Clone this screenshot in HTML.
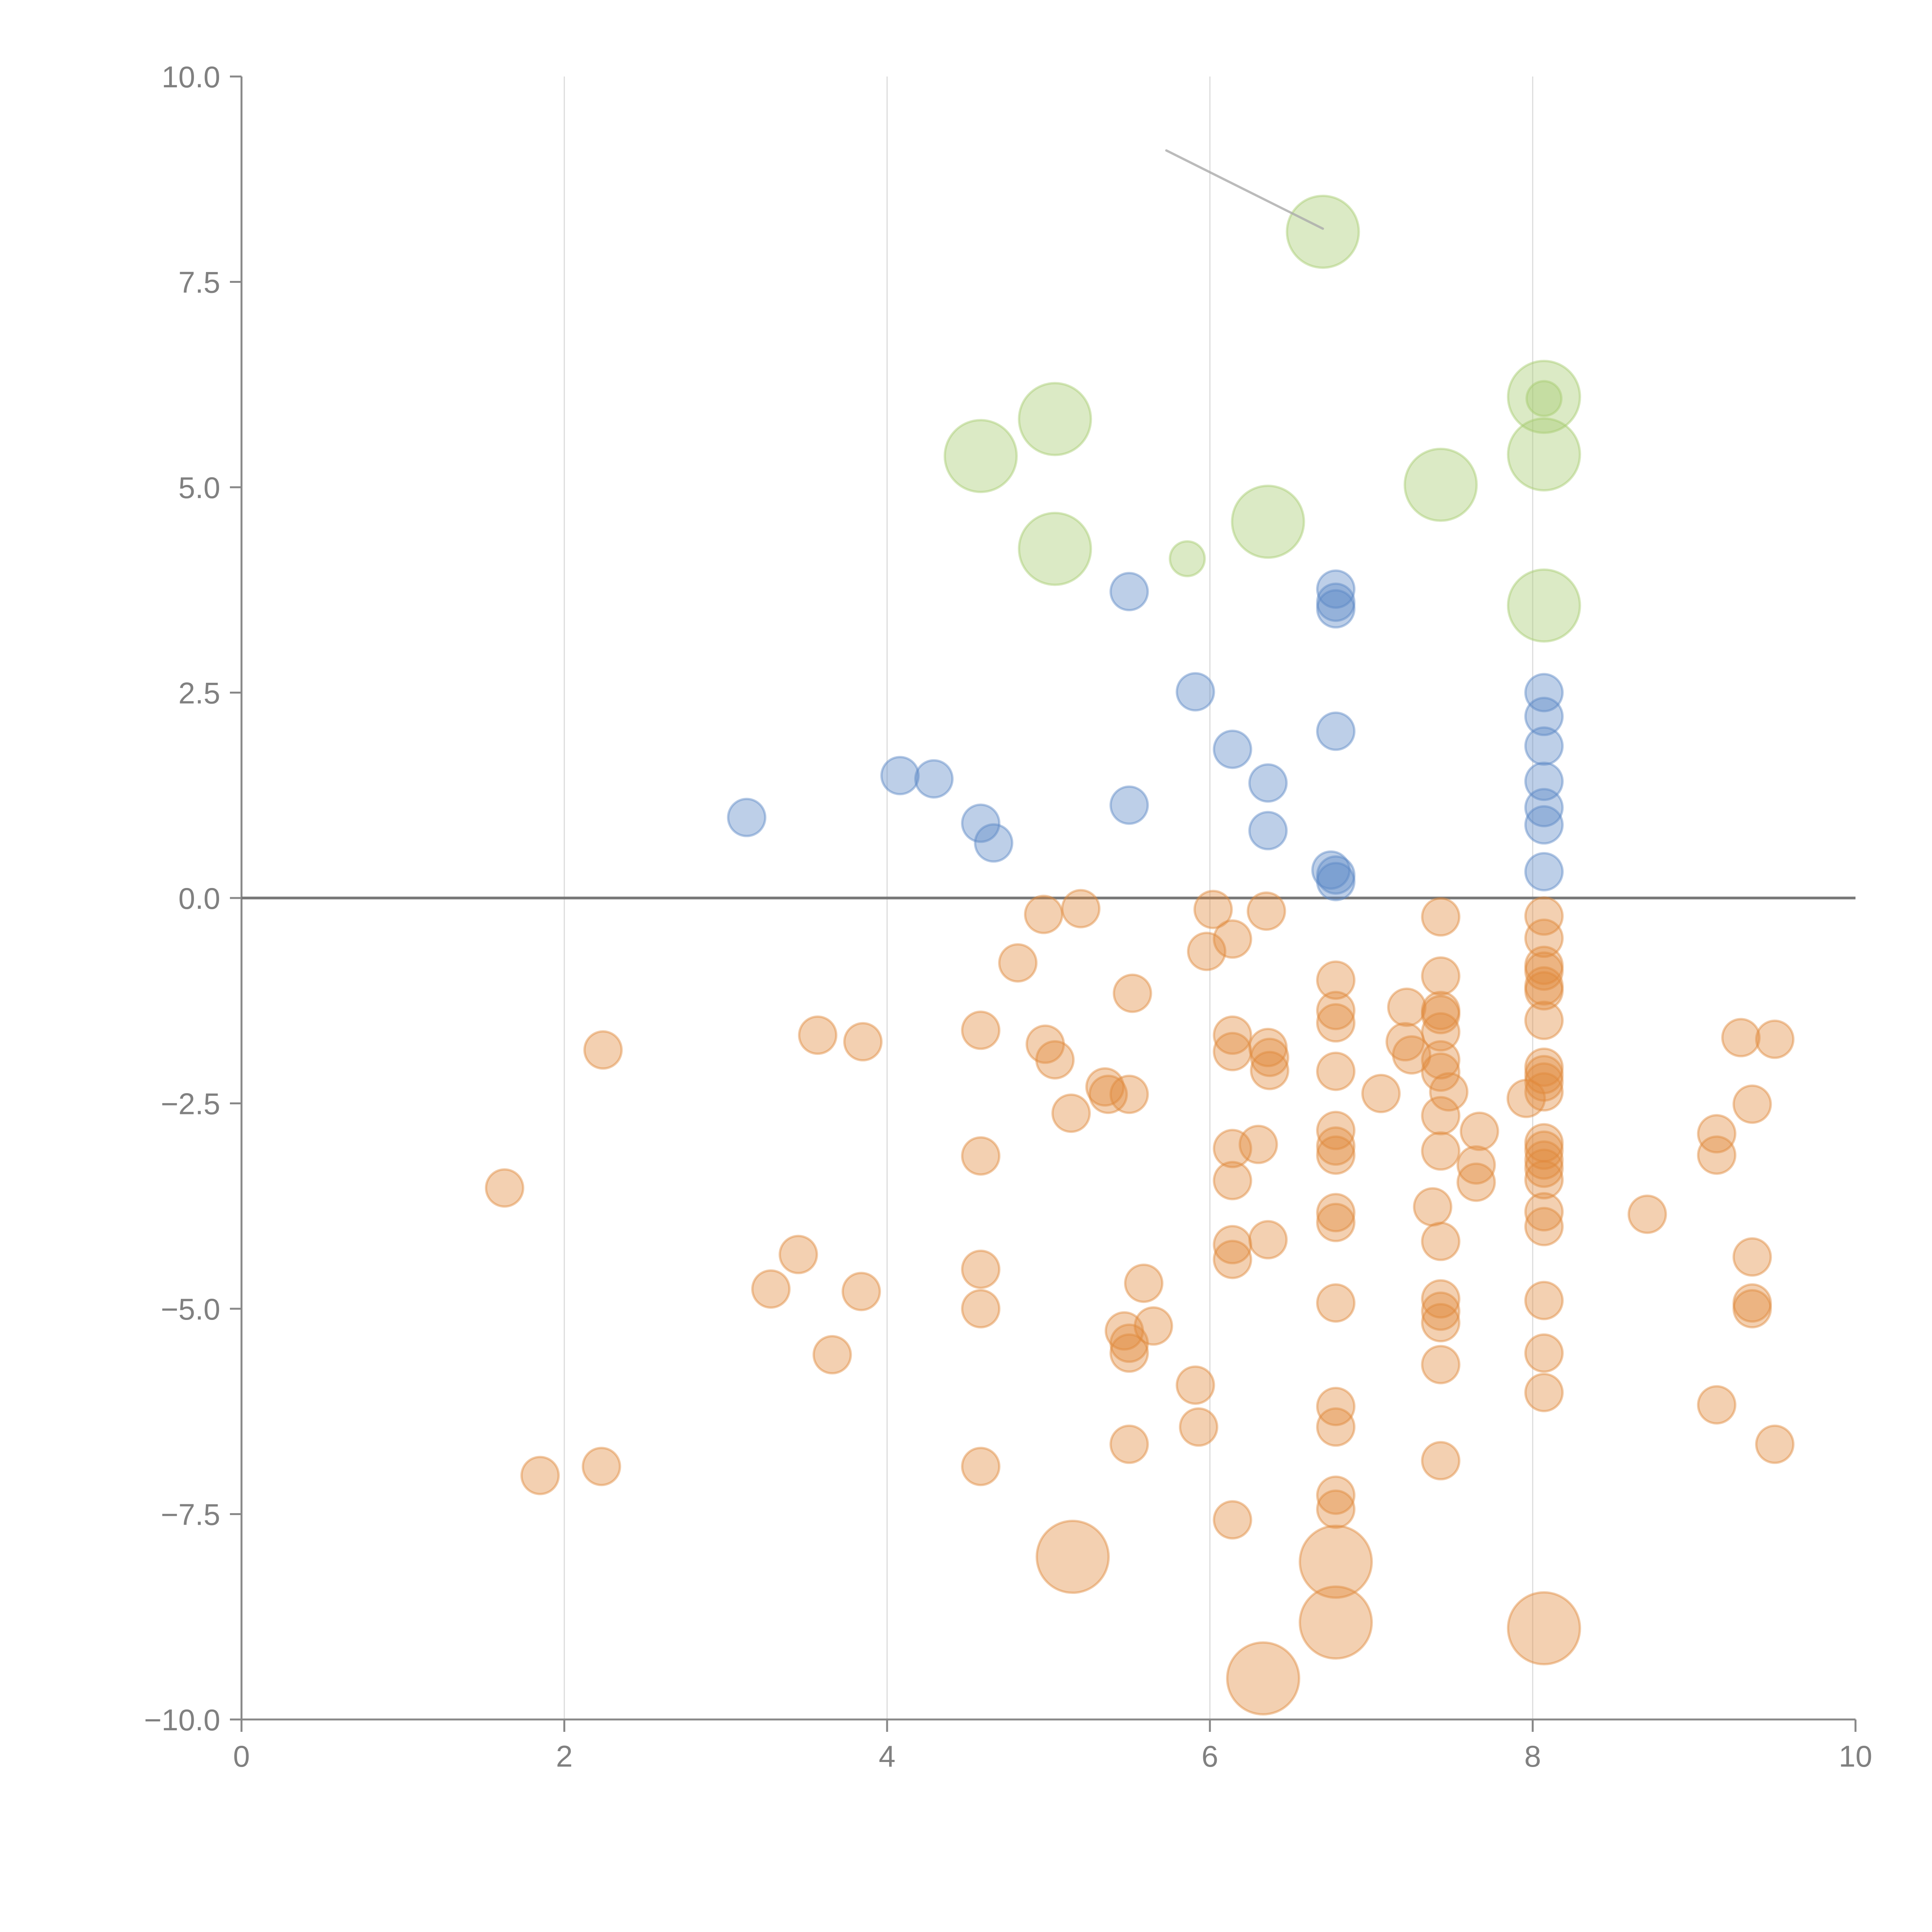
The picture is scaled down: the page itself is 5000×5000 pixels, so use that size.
<!DOCTYPE html>
<html><head><meta charset="utf-8"><style>
html,body{margin:0;padding:0;background:#fff}
svg{display:block}
text{font-family:"Liberation Sans",sans-serif;fill:#808080}
</style></head><body>
<svg id="chart" width="5000" height="5000" viewBox="0 0 5000 5000" xmlns="http://www.w3.org/2000/svg">
<g id="grid"></g>
<g id="axes"></g>
<g id="marks"></g>
</svg>
<script>
const xTicks = [0, 2, 4, 6, 8, 10];
const yTicks = [-10, -7.5, -5, -2.5, 0, 2.5, 5, 7.5, 10];
const blueX = [3.13,4.08,4.29,4.58,4.66,5.50,5.50,5.91,6.14,6.36,6.36,6.78,6.78,6.78,6.78,6.75,6.78,6.78,8.07,8.07,8.07,8.07,8.07,8.07,8.07];
const blueY = [0.98,1.49,1.45,0.91,0.67,3.73,1.13,2.51,1.81,1.40,0.82,3.76,3.60,3.52,2.03,0.34,0.28,0.20,2.50,2.21,1.85,1.42,1.10,0.89,0.32];
const greenX = [6.70,8.07,8.07,5.04,4.58,7.43,6.36,5.04,5.86,8.07,8.07];
const greenY = [8.11,6.10,5.40,5.83,5.38,5.03,4.58,4.25,4.13,3.56,6.08];
const greenSize = [2,2,2,2,2,2,2,2,1,2,1];
const orangeX = [1.63,1.85,2.24,2.23,3.28,3.45,3.57,3.66,3.85,3.84,4.58,4.58,4.58,4.58,4.58,4.81,4.97,4.98,5.04,5.20,5.14,5.35,5.37,5.50,5.52,5.59,5.65,5.47,5.50,5.50,5.50,5.91,5.93,5.98,6.02,6.14,6.14,6.14,6.14,6.14,6.14,6.14,6.14,6.30,6.35,6.36,6.37,6.37,6.36,6.78,6.78,6.78,6.78,6.78,6.78,6.78,6.78,6.78,6.78,6.78,6.78,6.78,6.78,7.06,7.22,7.21,7.25,7.38,7.43,7.43,7.43,7.43,7.43,7.43,7.43,7.48,7.43,7.43,7.43,7.43,7.43,7.43,7.43,7.43,7.65,7.65,7.67,7.96,8.07,8.07,8.07,8.07,8.07,8.07,8.07,8.07,8.07,8.07,8.07,8.07,8.07,8.07,8.07,8.07,8.07,8.07,8.07,8.07,8.07,8.71,9.14,9.14,9.14,9.29,9.50,9.36,9.36,9.36,9.36,9.50,5.15,6.78,6.78,8.07,6.33];
const orangeY = [-3.53,-7.03,-1.85,-6.92,-4.76,-4.34,-1.67,-5.56,-1.75,-4.79,-1.61,-3.14,-4.52,-5.00,-6.92,-0.79,-0.20,-1.78,-1.97,-0.13,-2.62,-2.30,-2.39,-2.39,-1.16,-4.69,-5.21,-5.27,-5.42,-5.54,-6.65,-5.93,-6.44,-0.65,-0.14,-0.50,-1.67,-1.87,-3.05,-3.44,-4.22,-4.40,-7.57,-3.00,-0.16,-1.82,-1.94,-2.10,-4.16,-1.00,-1.37,-1.52,-2.11,-2.83,-3.02,-3.13,-3.83,-3.95,-4.93,-6.19,-6.44,-7.27,-7.44,-2.38,-1.33,-1.75,-1.91,-3.76,-0.23,-0.95,-1.37,-1.42,-1.63,-1.97,-2.12,-2.36,-2.65,-3.08,-4.18,-4.88,-5.03,-5.17,-5.68,-6.85,-3.25,-3.46,-2.84,-2.44,-0.22,-0.49,-0.82,-0.89,-1.07,-1.13,-1.49,-2.06,-2.15,-2.24,-2.36,-2.98,-3.07,-3.19,-3.29,-3.43,-3.82,-4.00,-4.90,-5.54,-6.02,-3.85,-2.87,-3.13,-6.17,-1.70,-1.72,-2.51,-4.37,-4.93,-5.00,-6.65,-8.02,-8.08,-8.82,-8.89,-9.50];
const orangeSize = orangeX.map((v,i)=> i >= orangeX.length-5 ? 2 : 1);

const L=625,R=4802,T=198,B=4450;
const sx=v=>L+(v-0)/(10-0)*(R-L);
const sy=v=>B-(v+10)/20*(B-T);
const NS="http://www.w3.org/2000/svg";
function mk(tag,parent,attrs){const e=document.createElementNS(NS,tag);for(const k in attrs)e.setAttribute(k,attrs[k]);parent.appendChild(e);return e;}
const grid=document.getElementById('grid'),axes=document.getElementById('axes'),marks=document.getElementById('marks');

xTicks.forEach(t=>{
  if(t>0&&t<10){const g=mk('line',grid,{x1:sx(t),x2:sx(t),y1:T,y2:B,stroke:'#dcdcdc','stroke-width':3});
  
  }
  const tk=mk('line',axes,{x1:sx(t),x2:sx(t),y1:B,y2:B+32,stroke:'#888','stroke-width':5});
  
  
  const lb=mk('text',axes,{x:sx(t),y:B+122,'font-size':78,'text-anchor':'middle'});
  lb.textContent=String(t);
  
  
});
yTicks.forEach(t=>{
  const tk=mk('line',axes,{x1:L-30,x2:L,y1:sy(t),y2:sy(t),stroke:'#888','stroke-width':5});
  
  
  const lb=mk('text',axes,{x:L-55,y:sy(t)+28,'font-size':78,'text-anchor':'end'});
  lb.textContent=(t<0?'\u2212':'')+Math.abs(t).toFixed(1);
  
  
});
const xa=mk('line',axes,{x1:L,x2:R,y1:B,y2:B,stroke:'#888','stroke-width':5});


const ya=mk('line',axes,{x1:L,x2:L,y1:T,y2:B,stroke:'#888','stroke-width':5});


const zl=mk('line',axes,{x1:L,x2:R,y1:sy(0),y2:sy(0),stroke:'#777','stroke-width':7});



function draw(xs,ys,sizes,color,name){
  xs.forEach((x,i)=>{
    const r=sizes[i]===2?93:(name==='green-bubble'?45:48);
    const c=mk('circle',marks,{cx:sx(x),cy:sy(ys[i]),r:r,fill:color,'fill-opacity':0.4,stroke:color,'stroke-opacity':0.45,'stroke-width':6});
    
    
  });
}
draw(orangeX,orangeY,orangeSize,'#e08a3c','orange-bubble');
draw(blueX,blueY,blueX.map(()=>1),'#5a87c6','blue-bubble');
draw(greenX,greenY,greenSize,'#a6cb6e','green-bubble');

const ld=mk('line',marks,{x1:sx(5.73),y1:sy(9.1),x2:sx(greenX[0]),y2:sy(greenY[0])-8,stroke:'#aaa','stroke-opacity':0.8,'stroke-width':6,'stroke-linecap':'round'});


</script>
</body></html>
